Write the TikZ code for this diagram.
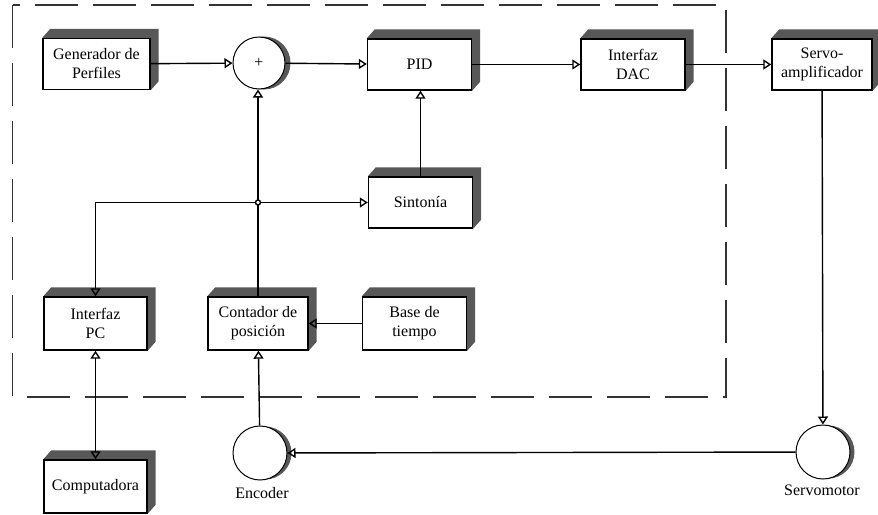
\documentclass[tikz,border=0pt]{standalone}
\usepackage{fontspec}
\setmainfont{Liberation Serif}
\usetikzlibrary{arrows.meta}
\usetikzlibrary{backgrounds}
\usetikzlibrary{positioning}
\definecolor{sombra}{HTML}{585858}
\tikzset{
  bloque/.style={draw=black, line width=1.4pt, fill=white, minimum width=104pt, minimum height=51pt, align=center, inner sep=1pt, font=\fontsize{16}{19}\selectfont},
  rueda/.style={draw=black, line width=1pt, fill=white, circle, minimum size=52pt, inner sep=0pt},
  etiq/.style={font=\fontsize{16}{19}\selectfont},
  flecha/.style={line width=1.4pt, -{Triangle[open,length=8pt,width=10pt]}},
  linea/.style={line width=1.4pt}
}

\begin{document}
\begin{tikzpicture}[x=1pt,y=-1pt]
\useasboundingbox (0,0) rectangle (878,514);
\draw[line width=1.5pt, dash pattern=on 43pt off 15pt, black!80] (12.5,5) rectangle (726,397);
% bloques
\node[bloque, minimum width=107pt] (gen) at (96.5,64) {Generador de\\Perfiles};
\node[rueda] (sum) at (259,63) {\fontsize{16}{19}\selectfont +};
\node[bloque] (pid) at (419.5,64.5) {PID};
\node[bloque] (dac) at (633,64.5) {Interfaz\\DAC};
\node[bloque, minimum width=100pt] (servo) at (822,64.5) {Servo-\\amplificador};
\node[bloque] (sint) at (420.5,202.5) {Sintonía};
\node[bloque, minimum width=103pt, minimum height=53pt] (pc) at (95.5,323.5) {Interfaz\\PC};
\node[bloque, minimum width=100pt, minimum height=53pt] (cont) at (258,323.5) {Contador de\\posición};
\node[bloque, minimum height=53pt] (base) at (414.5,323.5) {Base de\\tiempo};
\node[bloque, minimum width=103pt, minimum height=53pt] (comp) at (95.5,486.5) {Computadora};
\node[rueda, minimum size=54pt] (enc) at (260,453) {};
\node[rueda, minimum size=54pt] (motor) at (823,452) {};
\node[etiq] (encl) at (262,493) {Encoder};
\node[etiq] (motl) at (822,490) {Servomotor};
% sombras
\begin{scope}[on background layer]
\foreach \n in {gen,pid,dac,servo,sint,pc,cont,base,comp} {
 \fill[sombra] (\n.north west) -- ++(8,-9) -- ([shift={(8,-9)}]\n.north east) -- ([shift={(8,-9)}]\n.south east) -- (\n.south east) -- (\n.north east) -- cycle;
};
\foreach \n in {sum,enc,motor} {
 \fill[sombra] ([xshift=5pt]\n.center) circle (26.5pt);
};
\end{scope}
% conexiones
\coordinate (j) at (cont.north |- sint.west);
\draw[flecha] (gen) -- (sum);
\draw[flecha] (sum) -- (pid);
\draw[flecha] (pid) -- (dac);
\draw[flecha] (dac) -- (servo);
\draw[flecha] (servo) -- (motor);
\draw[flecha] (motor) -- (enc);
\draw[flecha] (enc) -- (cont);
\draw[flecha] (base) -- (cont);
\draw[flecha] (cont.north) -- (cont.north |- sum.south);
\draw[flecha] (sint.north) -- (sint.north |- pid.south);
\draw[flecha] (j) -- (sint.west);
\draw[flecha] (j) -| (pc.north);
\draw[line width=1.4pt, {Triangle[open,length=8pt,width=10pt]}-{Triangle[open,length=8pt,width=10pt]}] (pc) -- (comp);
\draw[linea, fill=white] (j) circle (2.5pt);
\end{tikzpicture}
\end{document}
